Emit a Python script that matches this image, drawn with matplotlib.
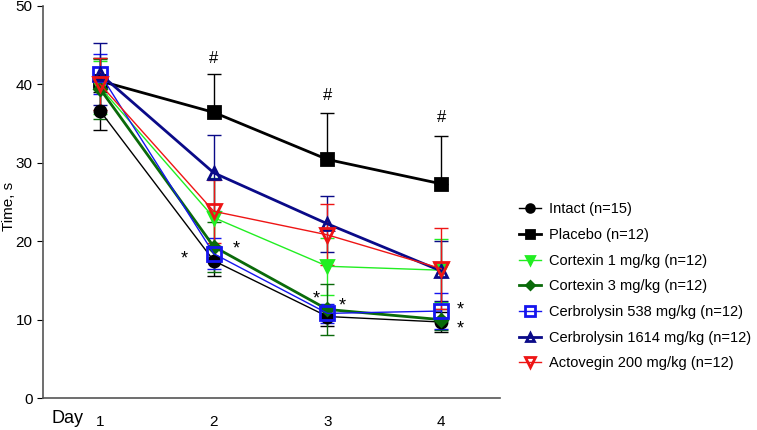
import numpy as np
import matplotlib.pyplot as plt

plt.rcParams['font.family'] = ['Liberation Sans', 'DejaVu Sans']

days = [1, 2, 3, 4]
day_labels = ['1', '2', '3', '4']

intact = [36.6, 17.5, 10.4, 9.7]
intact_err = [2.4, 1.9, 1.2, 1.3]
placebo = [40.4, 36.4, 30.4, 27.3]
placebo_err = [2.9, 4.9, 5.9, 6.1]
cortexin1 = [39.6, 23.0, 16.8, 16.3]
cortexin1_err = [3.4, 5.0, 3.6, 4.0]
cortexin3 = [39.4, 19.3, 11.3, 10.0]
cortexin3_err = [3.8, 3.2, 3.3, 1.3]
cerb538 = [41.3, 18.4, 10.8, 11.1]
cerb538_err = [2.5, 2.0, 1.2, 2.3]
cerb1614 = [41.3, 28.7, 22.2, 16.2]
cerb1614_err = [3.9, 4.8, 3.6, 3.8]
actovegin = [40.0, 23.8, 20.8, 16.5]
actovegin_err = [3.3, 4.0, 3.9, 5.2]

hash_y = [43.3, 38.6, 35.8]
star_pts = [(1.74, 17.7), (2.2, 19.0), (2.9, 12.6), (3.13, 11.7), (4.17, 11.2), (4.17, 8.8)]

fig = plt.figure(figsize=(7.57, 4.3), dpi=100)
ax = fig.add_axes([0.057, 0.074, 0.604, 0.913])

series = [
    ('Intact (n=15)', intact, intact_err, 'black', 'o', 'black', 1.0, 8, 'both'),
    ('Placebo (n=12)', placebo, placebo_err, 'black', 's', 'black', 2.0, 9, 'up'),
    ('Cortexin 1 mg/kg (n=12)', cortexin1, cortexin1_err, '#22ee22', 'v', '#22ee22', 1.0, 8, 'both'),
    ('Cortexin 3 mg/kg (n=12)', cortexin3, cortexin3_err, '#0a6a0a', 'D', '#0a6a0a', 2.0, 6, 'both'),
    ('Cerbrolysin 538 mg/kg (n=12)', cerb538, cerb538_err, '#1515ee', 's', 'none', 1.0, 10, 'both'),
    ('Cerbrolysin 1614 mg/kg (n=12)', cerb1614, cerb1614_err, '#0a0a88', '^', 'none', 2.0, 9, 'both'),
    ('Actovegin 200 mg/kg (n=12)', actovegin, actovegin_err, '#ee1515', 'v', 'none', 1.0, 10, 'both'),
]

handles = []
for name, vals, err, col, mk, fc, lw, ms, side in series:
    e = np.array(err)
    if side == 'up':
        yerr = [np.zeros_like(e), e]
    else:
        yerr = [e, e]
    ax.errorbar(days, vals, yerr=yerr, color=col, lw=1.0, capsize=5, capthick=1.0,
                fmt='none', zorder=2)
    h, = ax.plot(days, vals, color=col, lw=lw, marker=mk, markersize=ms,
                 markerfacecolor=fc, markeredgecolor=col, markeredgewidth=2.0,
                 label=name, zorder=3)
    handles.append(h)

for d, y in zip(days[1:], hash_y):
    ax.text(d, y, '#', ha='center', va='center', fontsize=12)
for x, y in star_pts:
    ax.text(x, y, '*', ha='center', va='center', fontsize=13)

ax.set_xlim(0.5, 4.52)
ax.set_ylim(0, 50)
ax.set_yticks([0, 10, 20, 30, 40, 50])
ax.set_xticks(days)
ax.set_xticklabels(day_labels)
ax.tick_params(axis='x', length=0, pad=12, labelsize=11)
ax.tick_params(axis='y', length=4, labelsize=11, direction='out')
ax.spines['top'].set_visible(False)
ax.spines['right'].set_visible(False)
ax.spines['left'].set_color('#555555')
ax.spines['bottom'].set_color('#555555')
ax.spines['left'].set_linewidth(1.2)
ax.spines['bottom'].set_linewidth(1.2)
fig.text(0.003, 0.52, 'Time, s', fontsize=11, rotation=90, ha='left', va='center')
fig.text(0.068, 0.008, 'Day', fontsize=13, ha='left', va='bottom')

fig.legend(handles=handles, loc='upper left', bbox_to_anchor=(0.668, 0.56),
           frameon=False, fontsize=10.5, handlelength=1.5, labelspacing=0.8,
           handletextpad=0.6, markerscale=0.7)

fig.savefig('out.png', dpi=100)
